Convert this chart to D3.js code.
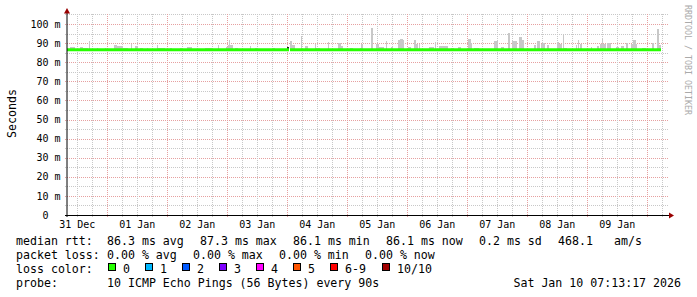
<!DOCTYPE html>
<html><head><meta charset="utf-8">
<script src="https://cdn.jsdelivr.net/npm/d3@7"></script>
<style>
html,body{margin:0;padding:0;background:#fff;}
svg{display:block;}
text{font-family:"DejaVu Sans Mono",monospace;white-space:pre;}
</style>
</head><body>
<svg id="c" width="697" height="297"></svg>
<script>
// ---------------- data ----------------
const startTime = new Date(Date.UTC(2025, 11, 31, 7, 52, 48));
const spanHours = 240;
const yTicks = [0, 10, 20, 30, 40, 50, 60, 70, 80, 90, 100];
const yTickLabels = ["0  ", "10 m", "20 m", "30 m", "40 m", "50 m", "60 m", "70 m", "80 m", "90 m", "100 m"];
const dayLabels = ["31 Dec", "01 Jan", "02 Jan", "03 Jan", "04 Jan", "05 Jan", "06 Jan", "07 Jan", "08 Jan", "09 Jan"];
// median rtt (ms), segments in hours since start
const medianFrom = [0, 89.2];
const medianTo = [88.8, 237.6];
const medianValue = [86.3, 86.3];
// smoke (spread of pings): hours since start, top in ms
const smokeFrom = [1.2,5.2,6.4,8.8,12,15.2,18.8,20,22.4,25.6,27.2,29.2,32,36,36.4,41.2,45.2,48,52,55.2,
  60.4,63.6,64.4,64.8,67.2,73.2,75.2,82.4,89.2,90,93.6,95.2,99.2,99.6,104.4,108.4,109.6,113.2,117.2,117.6,
  121.6,123.6,124.8,127.6,129.6,132.4,133.2,134.4,136.4,138.8,139.6,140.8,144.8,147.2,148.8,153.6,156.4,160.4,161.6,162.8,
  170.8,173.6,176.4,178,180.8,182,186.8,188,189.6,190,192,196,196.8,198.4,198.8,203.6,204.4,205.2,209.6,212,
  213.2,214,216,219.6,221.6,223.6,225.6,226.4,230,234,236,236.8];
const smokeTo = [3.2,6.4,8.4,9.2,12.4,15.6,20,22.4,24.4,26,28.4,30.4,32.4,36.4,39.2,42,46,50,52.4,58,
  60.8,64.4,66.4,65.2,68.4,73.6,76.4,83.2,90,91.2,94,96.4,99.6,101.2,104.8,109.6,110.4,114.4,118.4,118.4,
  122.4,124.8,126.8,128,130.4,133.2,134.4,134.8,137.6,139.6,140.4,141.2,146.8,147.6,152.4,154.8,157.6,161.6,162,164.8,
  172.4,174.8,177.2,180,182,182.8,187.6,189.2,190,191.2,192.8,196.8,198,198.8,200,204,204.8,206,210,212.8,
  215.6,214.4,217.6,220.8,222.8,224.4,228,227.6,231.6,234.8,236.8,237.6];
const smokeMax = [87.9,87.9,87.3,91.1,87.3,87.3,88.9,88.3,87.5,89.5,88.6,87.3,87.6,88.9,87.5,87.5,87.6,87.9,87.5,87.6,
  88.9,87.9,88.9,91.7,87.6,88.3,87.3,87.5,91.0,88.9,93.5,88.6,89.5,87.6,90.7,89.8,88.3,87.6,87.6,89.5,
  98.1,89.5,87.9,91.0,87.9,91.7,92.4,91.4,87.8,91.6,89.5,89.5,87.9,90.7,88.6,87.3,87.9,92.1,90.0,87.5,
  91.0,87.9,95.3,91.0,93.0,91.7,88.9,91.0,89.5,90.3,88.9,90.7,89.5,94.2,87.6,88.9,91.6,89.5,87.9,88.6,
  89.5,92.4,90.0,87.9,88.6,90.0,89.5,91.6,87.6,90.0,97.4,88.9];
const denseFrom = [88.0], denseTo = [88.8], denseMax = [88.1];
// legend
const rttItems = ["median rtt:", "86.3 ms avg", "87.3 ms max", "86.1 ms min", "86.1 ms now", "0.2 ms sd", "468.1", "am/s"];
const lossItems = ["packet loss:", "0.00 % avg", "0.00 % max", "0.00 % min", "0.00 % now"];
const lossLabels = ["0", "1", "2", "3", "4", "5", "6-9", "10/10"];
const lossColors = ["#26ff00", "#00b8ff", "#0059ff", "#7e00ff", "#ff00ff", "#ff5500", "#ff0000", "#a10000"];
const probeText = ["probe:", "10 ICMP Echo Pings (56 Bytes) every 90s", "Sat Jan 10 07:13:17 2026"];

// ---------------- drawing ----------------
const svg = d3.select("#c");
const endTime = new Date(+startTime + spanHours * 3600e3);
const x = d3.scaleUtc().domain([startTime, endTime]).range([67, 667]);
const hx = h => x(new Date(+startTime + h * 3600e3));
const y = d3.scaleLinear().domain([0, 100]).range([215, 24]);

const gGrid = svg.append("g");
// horizontal grid
d3.range(5, 106, 5).forEach(v => {
  const yy = Math.round(y(v)) + 0.5;
  gGrid.append("line").attr("x1", 65).attr("x2", 669).attr("y1", yy).attr("y2", yy)
    .attr("stroke", v % 10 === 0 ? "#e6a0a0" : "#c8c8c8").attr("stroke-dasharray", "1,1");
});
// vertical grid
const majors = d3.utcDay.range(startTime, endTime).map(d => +d);
d3.utcHour.every(6).range(startTime, endTime).forEach(d => {
  const isMajor = majors.includes(+d);
  const xx = Math.round(x(d)) + 0.5;
  gGrid.append("line").attr("x1", xx).attr("x2", xx).attr("y1", 14).attr("y2", 217)
    .attr("stroke", isMajor ? "#e6a0a0" : "#c8c8c8").attr("stroke-dasharray", "1,1");
});

// smoke
const gSmoke = svg.append("g");
smokeFrom.forEach((h, i) => {
  const x0 = Math.round(hx(h)), x1 = Math.round(hx(smokeTo[i]));
  const y0 = Math.round(y(smokeMax[i]));
  gSmoke.append("rect").attr("x", x0).attr("width", Math.max(1, x1 - x0))
    .attr("y", y0).attr("height", Math.round(y(86.0)) - y0).attr("fill", "#c8c8c8");
});
denseFrom.forEach((h, i) => {
  const x0 = Math.round(hx(h)), x1 = Math.round(hx(denseTo[i]));
  const y0 = Math.round(y(denseMax[i]));
  gSmoke.append("rect").attr("x", x0).attr("width", Math.max(1, x1 - x0))
    .attr("y", y0).attr("height", 3).attr("fill", "#202020");
});
// median
medianFrom.forEach((h, i) => {
  const yy = y(medianValue[i]) - 0.5;
  svg.append("line").attr("x1", hx(h)).attr("x2", hx(medianTo[i])).attr("y1", yy).attr("y2", yy)
    .attr("stroke", lossColors[0]).attr("stroke-width", 3);
});

// axes
svg.append("line").attr("x1", 65).attr("x2", 670).attr("y1", 215.5).attr("y2", 215.5).attr("stroke", "#000");
svg.append("line").attr("x1", 67).attr("x2", 67).attr("y1", 217).attr("y2", 12).attr("stroke", "#000");
svg.append("polygon").attr("points", "669,212.5 674,215.5 669,218.5").attr("fill", "#990000");
svg.append("polygon").attr("points", "64,13.5 67,8 70,13.5").attr("fill", "#990000");

// y tick labels
yTicks.forEach((v, i) => {
  svg.append("text").attr("x", 60.5).attr("y", y(v) + 3.6).attr("text-anchor", "end")
    .attr("font-size", "10px").attr("fill", "#000").text(yTickLabels[i]);
});
// x tick labels (noon of each day)
dayLabels.forEach((lab, i) => {
  const d = d3.utcHour.offset(d3.utcDay.offset(d3.utcDay.floor(startTime), i), 12);
  svg.append("text").attr("x", x(d)).attr("y", 228).attr("text-anchor", "middle")
    .attr("font-size", "10px").attr("fill", "#000").text(lab);
});
// axis title
svg.append("text").attr("transform", "translate(15.5,113.5) rotate(-90)").attr("text-anchor", "middle")
  .attr("font-size", "11.6px").attr("fill", "#000").text("Seconds");
// watermark
svg.append("text").attr("transform", "translate(685,5) rotate(90)").attr("text-anchor", "start")
  .attr("font-size", "8.3px").attr("fill", "#aaa").text("RRDTOOL / TOBI OETIKER");

// legend
const FS = "11.6px", CW = 7, GAP = 16;
function row(items, yb, xs) {
  let cx = 16;
  items.forEach((t, i) => {
    const px = xs && xs[i] != null ? xs[i] : cx;
    svg.append("text").attr("x", px).attr("y", yb).attr("font-size", FS).attr("fill", "#000").text(t);
    cx = (i === 0 ? 107 : px + t.length * CW + GAP);
  });
}
row(rttItems, 245, [16, 107, 200, 293, 386, 479, 558, 614]);
row(lossItems, 259, [16, 107, 193, 279, 365]);
svg.append("text").attr("x", 16).attr("y", 273).attr("font-size", FS).attr("fill", "#000").text("loss color:");
lossLabels.forEach((lab, i) => {
  const bx = i < 7 ? 108.3 + 36.9 * i : 382.3;
  svg.append("rect").attr("x", Math.round(bx) + 0.5).attr("y", 263.5).attr("width", 7).attr("height", 7)
    .attr("fill", lossColors[i]).attr("stroke", "#000");
  svg.append("text").attr("x", Math.round(bx) + 15).attr("y", 273).attr("font-size", FS).attr("fill", "#000").text(lab);
});
svg.append("text").attr("x", 16).attr("y", 287).attr("font-size", FS).attr("fill", "#000").text(probeText[0]);
svg.append("text").attr("x", 107).attr("y", 287).attr("font-size", FS).attr("fill", "#000").text(probeText[1]);
svg.append("text").attr("x", 681).attr("y", 287).attr("text-anchor", "end").attr("font-size", FS).attr("fill", "#000").text(probeText[2]);
</script>
</body></html>
